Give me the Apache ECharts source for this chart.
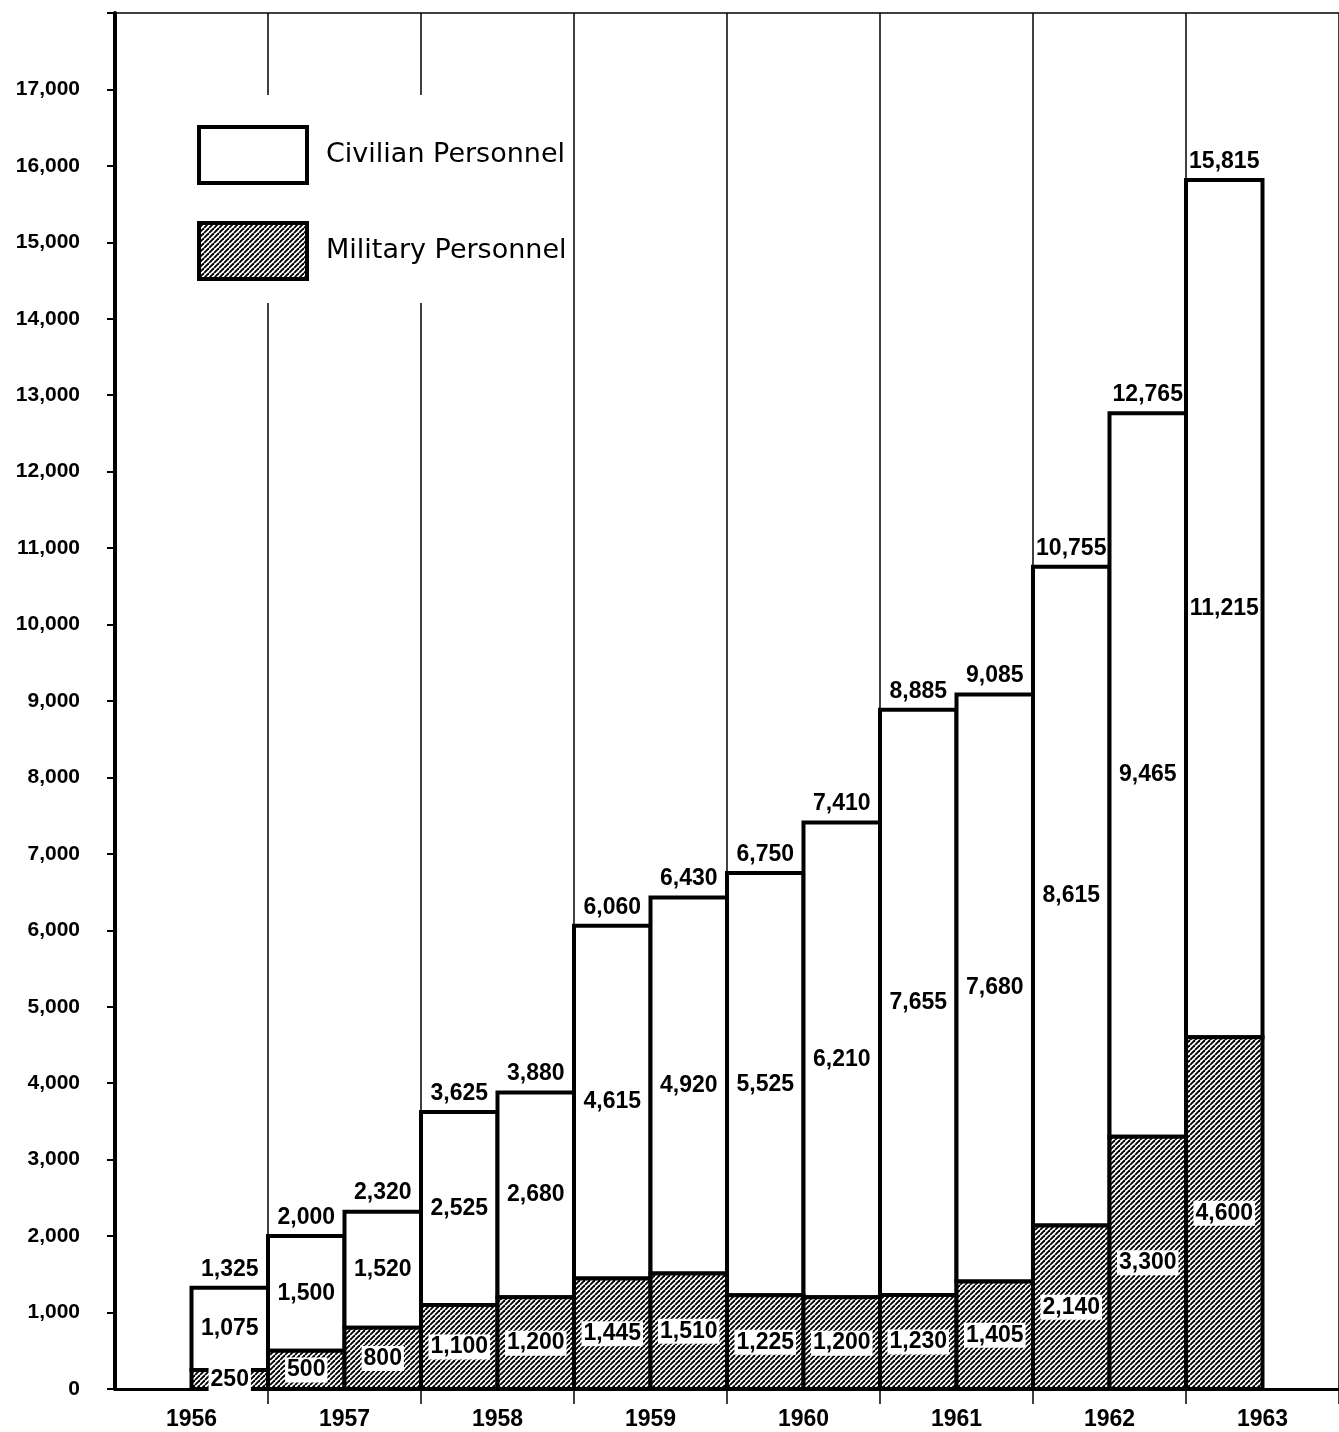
<!DOCTYPE html>
<html>
<head>
<meta charset="utf-8">
<script src="https://cdn.jsdelivr.net/npm/echarts@6/dist/echarts.min.js"></script>
<style>
  html, body { margin: 0; padding: 0; background: #fff; }
  #chart { width: 1339px; height: 1432px; }
</style>
</head>
<body>
<div id="chart"></div>
<script>
// Fiscal years shown on the horizontal axis (each split into two half-year slots)
const years = ['1956', '1957', '1958', '1959', '1960', '1961', '1962', '1963'];

// Half-year periods that carry a bar
const periods = [
  '1956 H2',
  '1957 H1', '1957 H2',
  '1958 H1', '1958 H2',
  '1959 H1', '1959 H2',
  '1960 H1', '1960 H2',
  '1961 H1', '1961 H2',
  '1962 H1', '1962 H2',
  '1963 H1'
];

const military = [250, 500, 800, 1100, 1200, 1445, 1510, 1225, 1200, 1230, 1405, 2140, 3300, 4600];
const civilian = [1075, 1500, 1520, 2525, 2680, 4615, 4920, 5525, 6210, 7655, 7680, 8615, 9465, 11215];
const totals   = [1325, 2000, 2320, 3625, 3880, 6060, 6430, 6750, 7410, 8885, 9085, 10755, 12765, 15815];

const yMax = 18000;
const yStep = 1000;

// All half-year slots along the axis, including the empty ones at each end
const slots = years.flatMap(y => [y + ' H1', y + ' H2']);

// One row per bar: period, military, civilian, total
const rows = periods.map((p, i) => [p, military[i], civilian[i], totals[i]]);

const fmt = v => Number(v).toLocaleString('en-US');

// Diagonal hatching used for military personnel
function hatchCanvas() {
  const s = 5;
  const c = document.createElement('canvas');
  c.width = s; c.height = s;
  const g = c.getContext('2d');
  g.fillStyle = '#fff';
  g.fillRect(0, 0, s, s);
  g.strokeStyle = '#000';
  g.lineWidth = 1.9;
  for (const k of [-s, 0, s]) {
    g.beginPath();
    g.moveTo(k, s);
    g.lineTo(k + s, 0);
    g.stroke();
  }
  return c;
}
const hatch = { image: hatchCanvas(), repeat: 'repeat' };

const NUM_FAMILY = 'Liberation Sans, Arial, sans-serif';
const numFont = { fontFamily: NUM_FAMILY, fontWeight: 'bold', color: '#000' };
const BORDER = 4;

function numText(x, y, value, opts) {
  return {
    type: 'text',
    x, y,
    z2: 20,
    style: Object.assign({
      text: fmt(value),
      fill: '#000',
      fontFamily: NUM_FAMILY,
      fontWeight: 'bold',
      fontSize: 23,
      align: 'center',
      verticalAlign: 'middle'
    }, opts || {})
  };
}

// Stacked segment drawn through the axis scales: military from 0, civilian on top of it
function segmentRenderer(kind) {
  return function (params, api) {
    const idx = api.value(0);
    const m = api.value(1);
    const c = api.value(2);
    const t = api.value(3);
    const w = api.size([1, 0])[0];
    const lo = kind === 'military' ? 0 : m;
    const hi = kind === 'military' ? m : m + c;
    const pLo = api.coord([idx, lo]);
    const pHi = api.coord([idx, hi]);
    const children = [{
      type: 'rect',
      shape: { x: pLo[0] - w / 2, y: pHi[1], width: w, height: pLo[1] - pHi[1] },
      style: {
        fill: kind === 'military' ? hatch : '#fff',
        stroke: '#000',
        lineWidth: BORDER
      }
    }];
    const midY = (pLo[1] + pHi[1]) / 2;
    if (kind === 'military') {
      children.push(numText(pLo[0], midY, m, { backgroundColor: '#fff', padding: [2, 2, 0, 2] }));
    } else {
      children.push(numText(pLo[0], midY, c));
      const pTop = api.coord([idx, t]);
      children.push(numText(pTop[0], pTop[1] - 7, t, { verticalAlign: 'bottom' }));
    }
    return { type: 'group', children };
  };
}

const chart = echarts.init(document.getElementById('chart'), null, { renderer: 'canvas' });

chart.setOption({
  animation: false,
  backgroundColor: '#fff',
  grid: { left: 115, right: -7, top: 13, bottom: 43, containLabel: false },
  legend: {
    data: [
      { name: 'Civilian Personnel', itemStyle: { color: '#fff', borderColor: '#000', borderWidth: BORDER } },
      { name: 'Military Personnel', itemStyle: { color: hatch, borderColor: '#000', borderWidth: BORDER } }
    ],
    orient: 'vertical',
    left: 180,
    top: 95,
    padding: [30, 6, 22, 17],
    backgroundColor: '#fff',
    icon: 'rect',
    itemWidth: 108,
    itemHeight: 56,
    itemGap: 36,
    selectedMode: false,
    itemStyle: { borderColor: '#000', borderWidth: BORDER },
    textStyle: {
      fontFamily: 'DejaVu Sans, sans-serif',
      fontSize: 27,
      color: '#000',
      padding: [0, 0, 0, 14]
    }
  },
  xAxis: [
    {
      // half-year slots: carries the bars, drawn as the top frame line
      type: 'category',
      data: slots,
      position: 'top',
      boundaryGap: true,
      axisLine: { show: true, onZero: false, lineStyle: { color: '#000', width: 1.5 } },
      axisTick: { show: false },
      axisLabel: { show: false },
      splitLine: { show: false }
    },
    {
      // years: labels, boundary rules and ticks
      type: 'category',
      data: years,
      position: 'bottom',
      boundaryGap: true,
      axisLine: { show: true, onZero: false, lineStyle: { color: '#000', width: 3 } },
      axisTick: {
        show: true,
        interval: (i) => i > 0,
        length: 15,
        lineStyle: { color: '#000', width: 1.5 }
      },
      axisLabel: { ...numFont, fontSize: 23, margin: 19 },
      splitLine: { show: true, interval: 0, lineStyle: { color: '#000', width: 1.5 } }
    }
  ],
  yAxis: {
    type: 'value',
    min: 0,
    max: yMax,
    interval: yStep,
    axisLine: { show: true, lineStyle: { color: '#000', width: 4 } },
    axisTick: { show: true, length: 8, lineStyle: { color: '#000', width: 2 } },
    axisLabel: {
      ...numFont,
      fontSize: 21,
      margin: 35,
      formatter: v => (v >= yMax ? '' : fmt(v))
    },
    splitLine: { show: false }
  },
  series: [
    {
      name: 'Civilian Personnel',
      type: 'custom',
      xAxisIndex: 0,
      z: 2,
      silent: true,
      dimensions: ['period', 'military', 'civilian', 'total'],
      encode: { x: 'period', y: ['military', 'civilian', 'total'] },
      itemStyle: { color: '#fff', borderColor: '#000', borderWidth: BORDER },
      renderItem: segmentRenderer('civilian'),
      data: rows
    },
    {
      name: 'Military Personnel',
      type: 'custom',
      xAxisIndex: 0,
      z: 3,
      silent: true,
      dimensions: ['period', 'military', 'civilian', 'total'],
      encode: { x: 'period', y: ['military', 'civilian', 'total'] },
      itemStyle: { color: hatch, borderColor: '#000', borderWidth: BORDER },
      renderItem: segmentRenderer('military'),
      data: rows
    }
  ]
});
</script>
</body>
</html>
